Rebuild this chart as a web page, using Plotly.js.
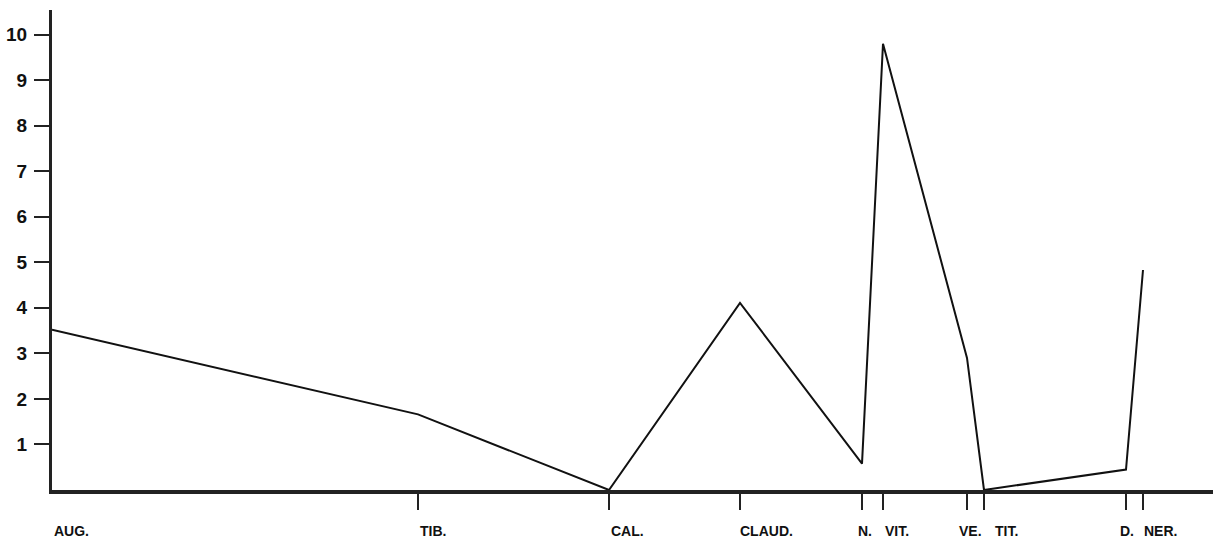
<!DOCTYPE html>
<html>
<head>
<meta charset="utf-8">
<script src="https://cdn.plot.ly/plotly-3.0.1.min.js"></script>
<style>html,body{margin:0;padding:0;background:#fff;}#chart{width:1213px;height:546px;}</style>
</head>
<body>
<div id="chart"></div>
<script>
// Emperors (category labels) and their positions along the horizontal axis
var emperors = ["AUG.", "TIB.", "CAL.", "CLAUD.", "N.", "VIT.", "VE.", "TIT.", "D.", "NER."];
var xPos     = [0, 366, 557, 688, 810, 831, 915, 932, 1074, 1091];
var values   = [3.52, 1.66, 0.0, 4.11, 0.58, 9.8, 2.9, 0.0, 0.45, 4.83];
var yTicks   = [1, 2, 3, 4, 5, 6, 7, 8, 9, 10];

// label horizontal nudges (style only)
var labelShift = [0, 0, 0, -2, -6, 0, -10, 9, -8, -1];

var trace = {
  x: xPos, y: values, type: "scatter", mode: "lines",
  line: {color: "#111", width: 2}, hoverinfo: "skip"
};

var annotations = emperors.map(function (t, i) {
  return {
    x: xPos[i], xref: "x", y: 0, yref: "paper", yanchor: "top", xanchor: "left",
    xshift: labelShift[i], yshift: -31, showarrow: false, text: t,
    font: {family: "Liberation Sans, Arial, sans-serif", size: 14, color: "#111", weight: "bold"}
  };
});

var layout = {
  width: 1213, height: 546,
  margin: {l: 52, r: 0, t: 10, b: 56},
  paper_bgcolor: "#fff", plot_bgcolor: "#fff",
  showlegend: false,
  xaxis: {
    range: [0, 1161], tickvals: xPos.slice(1), ticktext: emperors.slice(1).map(function(){return "";}),
    showgrid: false, zeroline: false, showline: true, linecolor: "#222", linewidth: 3.5,
    ticks: "outside", ticklen: 16, tickwidth: 2, tickcolor: "#222", fixedrange: true
  },
  yaxis: {
    range: [0, 10.54], tickvals: yTicks, ticktext: yTicks.map(String),
    showgrid: false, zeroline: false, showline: true, linecolor: "#222", linewidth: 3,
    ticks: "outside", ticklen: 15, tickwidth: 2, tickcolor: "#222",
    ticklabelstandoff: 3,
    tickfont: {family: "Liberation Sans, Arial, sans-serif", size: 19, color: "#111", weight: "bold"},
    fixedrange: true
  },
  annotations: annotations
};

Plotly.newPlot("chart", [trace], layout, {displayModeBar: false, staticPlot: true});
</script>
</body>
</html>
